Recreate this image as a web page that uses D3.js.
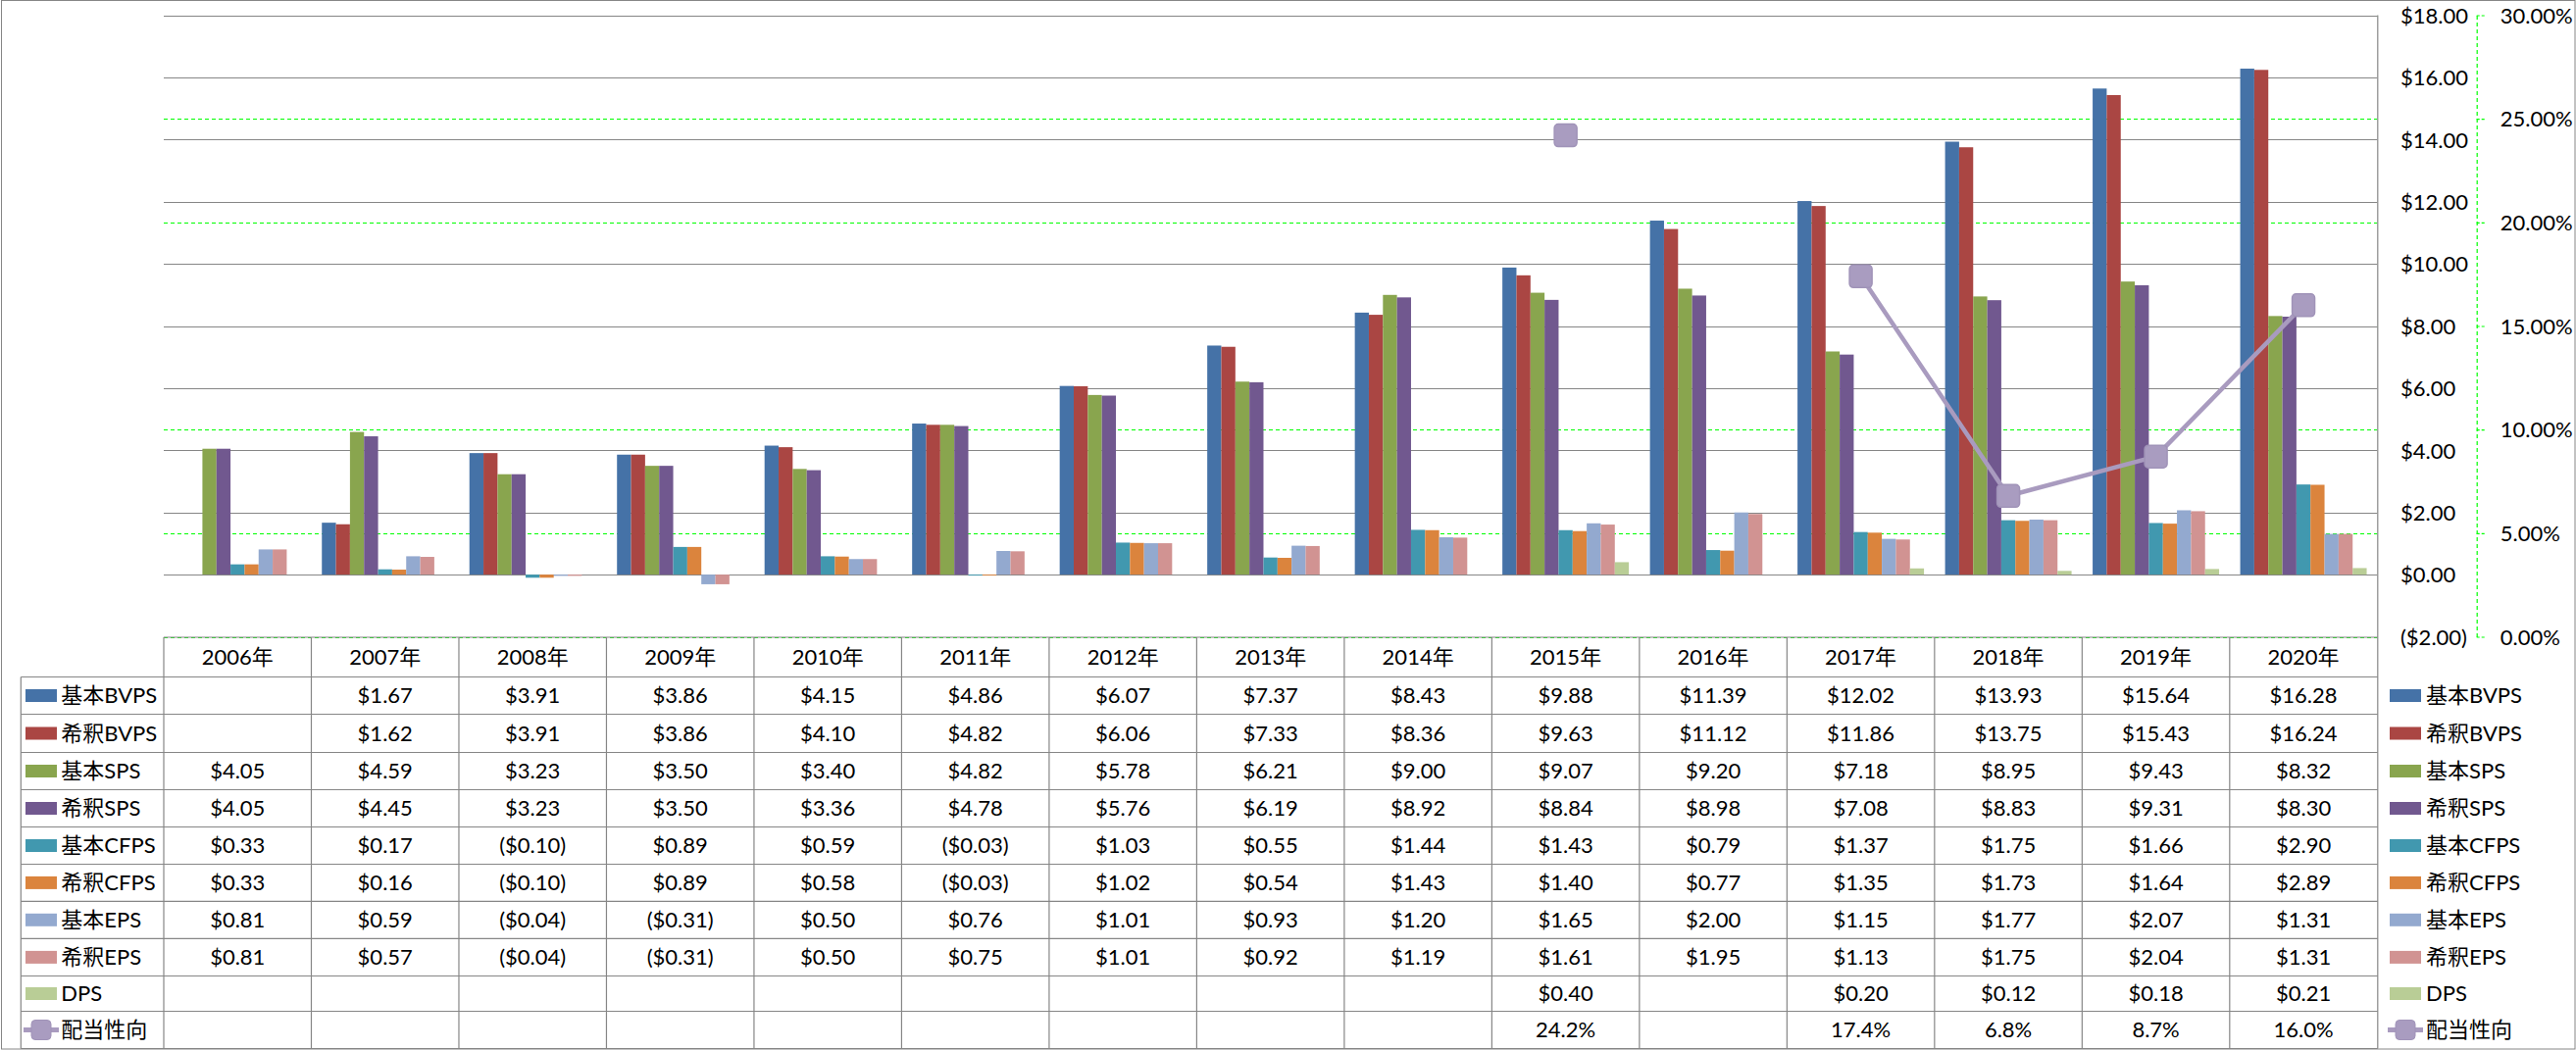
<!DOCTYPE html>
<html>
<head>
<meta charset="utf-8">
<script src="https://cdn.jsdelivr.net/npm/d3@7"></script>
<style>
  html, body { margin: 0; padding: 0; background: #fff; }
  svg { display: block; }
  text { font-family: Lato, "Noto Sans CJK JP", sans-serif; font-size: 22px; fill: #000; }
</style>
</head>
<body>
<svg id="chart" width="2627" height="1071"></svg>
<script>
// ---------------- DATA ----------------
const years = ["2006年","2007年","2008年","2009年","2010年","2011年","2012年","2013年","2014年","2015年","2016年","2017年","2018年","2019年","2020年"];
const basicBVPS   = [null, 1.67, 3.91, 3.86, 4.15, 4.86, 6.07, 7.37, 8.43, 9.88, 11.39, 12.02, 13.93, 15.64, 16.28];
const dilutedBVPS = [null, 1.62, 3.91, 3.86, 4.10, 4.82, 6.06, 7.33, 8.36, 9.63, 11.12, 11.86, 13.75, 15.43, 16.24];
const basicSPS    = [4.05, 4.59, 3.23, 3.50, 3.40, 4.82, 5.78, 6.21, 9.00, 9.07, 9.20, 7.18, 8.95, 9.43, 8.32];
const dilutedSPS  = [4.05, 4.45, 3.23, 3.50, 3.36, 4.78, 5.76, 6.19, 8.92, 8.84, 8.98, 7.08, 8.83, 9.31, 8.30];
const basicCFPS   = [0.33, 0.17, -0.10, 0.89, 0.59, -0.03, 1.03, 0.55, 1.44, 1.43, 0.79, 1.37, 1.75, 1.66, 2.90];
const dilutedCFPS = [0.33, 0.16, -0.10, 0.89, 0.58, -0.03, 1.02, 0.54, 1.43, 1.40, 0.77, 1.35, 1.73, 1.64, 2.89];
const basicEPS    = [0.81, 0.59, -0.04, -0.31, 0.50, 0.76, 1.01, 0.93, 1.20, 1.65, 2.00, 1.15, 1.77, 2.07, 1.31];
const dilutedEPS  = [0.81, 0.57, -0.04, -0.31, 0.50, 0.75, 1.01, 0.92, 1.19, 1.61, 1.95, 1.13, 1.75, 2.04, 1.31];
const dps         = [null, null, null, null, null, null, null, null, null, 0.40, null, 0.20, 0.12, 0.18, 0.21];
const payout      = [null, null, null, null, null, null, null, null, null, 0.242, null, 0.174, 0.068, 0.087, 0.160];

const barSeries = [
  { name: "基本BVPS", values: basicBVPS,   color: "#4572A7" },
  { name: "希釈BVPS", values: dilutedBVPS, color: "#AA4643" },
  { name: "基本SPS",  values: basicSPS,    color: "#89A54E" },
  { name: "希釈SPS",  values: dilutedSPS,  color: "#71588F" },
  { name: "基本CFPS", values: basicCFPS,   color: "#4198AF" },
  { name: "希釈CFPS", values: dilutedCFPS, color: "#DB843D" },
  { name: "基本EPS",  values: basicEPS,    color: "#93A9CF" },
  { name: "希釈EPS",  values: dilutedEPS,  color: "#D19392" },
  { name: "DPS",      values: dps,         color: "#B9CD96" }
];
const lineSeries = { name: "配当性向", values: payout, color: "#A99BBF" };

const dollarTicks = [-2, 0, 2, 4, 6, 8, 10, 12, 14, 16, 18];
const pctTicks = [0, 0.05, 0.10, 0.15, 0.20, 0.25, 0.30];

// ---------------- LAYOUT ----------------
const W = 2627, H = 1071;
const plotL = 167, plotR = 2424.3, plotT = 15.5, plotB = 649.5;
const tableLeft = 21.3;
const rowLines = [650, 690.5, 728.5, 767.5, 805.5, 843.5, 881.5, 919.3, 957.3, 995.5, 1031.5, 1069.5];
const gridGray = "#868686";
const green = "#00ff00";

const svg = d3.select("#chart");

// outer border
svg.append("rect").attr("x", 1.5).attr("y", 0.5).attr("width", W - 2.5).attr("height", H - 1.5)
  .attr("fill", "#fff").attr("stroke", gridGray).attr("stroke-width", 1);

// scales
const x = d3.scaleBand().domain(years).range([plotL, plotR]).paddingInner(0).paddingOuter(0);
const y = d3.scaleLinear().domain([-2, 18]).range([plotB, plotT]);
const y2 = d3.scaleLinear().domain([0, 0.30]).range([plotB, plotT]);
const barW = x.bandwidth() / 10.5;
const x1 = d3.scaleBand().domain(barSeries.map(s => s.name))
  .range([0.75 * barW, x.bandwidth() - 0.75 * barW]).padding(0);

// secondary gridlines (green dashed)
svg.append("g").selectAll("line").data(pctTicks).join("line")
  .attr("x1", plotL).attr("x2", plotR)
  .attr("y1", d => Math.round(y2(d)) + 0.5).attr("y2", d => Math.round(y2(d)) + 0.5)
  .attr("stroke", green).attr("stroke-width", 1.2).attr("stroke-dasharray", "4,3");

// primary gridlines (gray)
svg.append("g").selectAll("line").data(dollarTicks.filter(d => d >= 0)).join("line")
  .attr("x1", plotL).attr("x2", plotR)
  .attr("y1", d => Math.round(y(d)) + 0.5).attr("y2", d => Math.round(y(d)) + 0.5)
  .attr("stroke", gridGray).attr("stroke-width", 1.2);

// bars
const gBars = svg.append("g");
barSeries.forEach(s => {
  gBars.append("g").selectAll("rect")
    .data(years.map((yr, i) => ({ yr, v: s.values[i] })).filter(d => d.v != null))
    .join("rect")
    .attr("x", d => x(d.yr) + x1(s.name))
    .attr("width", x1.bandwidth())
    .attr("y", d => Math.min(y(d.v), y(0)))
    .attr("height", d => Math.abs(y(d.v) - y(0)))
    .attr("fill", s.color);
});

// right plot border
svg.append("line").attr("x1", plotR + 0.5).attr("x2", plotR + 0.5)
  .attr("y1", plotT).attr("y2", rowLines[rowLines.length - 1])
  .attr("stroke", gridGray).attr("stroke-width", 1.2);

// line series
const cx = yr => x(yr) + x.bandwidth() / 2;
const pts = years.map((yr, i) => ({ yr, v: lineSeries.values[i] }));
const line = d3.line().defined(d => d.v != null).x(d => cx(d.yr)).y(d => y2(d.v));
svg.append("path").attr("d", line(pts)).attr("fill", "none")
  .attr("stroke", lineSeries.color).attr("stroke-width", 4.5).attr("stroke-linejoin", "round");
const mS = 23;
svg.append("g").selectAll("rect").data(pts.filter(d => d.v != null)).join("rect")
  .attr("x", d => cx(d.yr) - mS / 2).attr("y", d => y2(d.v) - mS / 2)
  .attr("width", mS).attr("height", mS).attr("rx", 4)
  .attr("fill", "#A99CC0").attr("stroke", "#A093B8").attr("stroke-width", 1.5);

// primary axis labels (right side, left aligned)
const fmtDollar = v => v < 0 ? "($" + (-v).toFixed(2) + ")" : "$" + v.toFixed(2);
const axisL = d3.axisRight(y).tickValues(dollarTicks).tickSize(0).tickPadding(23.7).tickFormat(fmtDollar);
const gA = svg.append("g").attr("transform", `translate(${plotR},0)`).call(axisL);
gA.select(".domain").remove();
gA.selectAll("text").attr("font-size", null).attr("font-family", null)
  .style("font-size", "22px").attr("dy", "0.35em")
  .attr("fill", d => d < 0 ? "#ff0000" : "#000");

// secondary axis
const axisR = d3.axisRight(y2).tickValues(pctTicks).tickSize(8).tickSizeOuter(0).tickPadding(16)
  .tickFormat(d3.format(".2%"));
const gB = svg.append("g").attr("transform", `translate(2525.7,0)`).call(axisR);
gB.select(".domain").attr("stroke", green).attr("stroke-dasharray", "4,3").attr("stroke-width", 1.2);
gB.selectAll(".tick line").attr("stroke", green).attr("stroke-dasharray", "3,2").attr("stroke-width", 1.2);
gB.selectAll("text").attr("font-size", null).attr("font-family", null)
  .style("font-size", "22px").attr("dy", "0.35em").attr("fill", "#000");

// ---------------- DATA TABLE ----------------
const gT = svg.append("g");
const hLine = (yy, x0) => gT.append("line").attr("x1", x0).attr("x2", plotR + 0.5)
  .attr("y1", yy).attr("y2", yy).attr("stroke", gridGray).attr("stroke-width", 1.2);
hLine(rowLines[0], plotL);
rowLines.slice(1).forEach(yy => hLine(yy, tableLeft));
// vertical lines
years.forEach((yr, i) => {
  gT.append("line").attr("x1", x(yr)).attr("x2", x(yr))
    .attr("y1", rowLines[0]).attr("y2", rowLines[rowLines.length - 1])
    .attr("stroke", gridGray).attr("stroke-width", 1.2);
});
gT.append("line").attr("x1", tableLeft).attr("x2", tableLeft)
  .attr("y1", rowLines[1]).attr("y2", rowLines[rowLines.length - 1])
  .attr("stroke", gridGray).attr("stroke-width", 1.2);

// header
gT.append("g").selectAll("text").data(years).join("text")
  .attr("x", d => cx(d)).attr("y", (rowLines[0] + rowLines[1]) / 2).attr("dy", "0.35em")
  .attr("text-anchor", "middle").text(d => d);

const rows = barSeries.map(s => ({ name: s.name, values: s.values, color: s.color, fmt: fmtDollar, type: "bar" }))
  .concat([{ name: lineSeries.name, values: lineSeries.values, color: lineSeries.color,
             fmt: v => (v * 100).toFixed(1) + "%", type: "line" }]);

function legendKey(g, kx, cy, r) {
  if (r.type === "bar") {
    g.append("rect").attr("x", kx).attr("y", cy - 6.5).attr("width", 32).attr("height", 13).attr("fill", r.color);
  } else {
    g.append("line").attr("x1", kx - 2).attr("x2", kx + 34).attr("y1", cy).attr("y2", cy)
      .attr("stroke", r.color).attr("stroke-width", 5);
    g.append("rect").attr("x", kx + 6).attr("y", cy - 10).attr("width", 20).attr("height", 20).attr("rx", 4)
      .attr("fill", "#A99CC0").attr("stroke", "#A093B8").attr("stroke-width", 1);
  }
}

rows.forEach((r, ri) => {
  const cy = (rowLines[ri + 1] + rowLines[ri + 2]) / 2;
  // left legend
  legendKey(gT, 26, cy, r);
  gT.append("text").attr("x", 62.3).attr("y", cy).attr("dy", "0.35em").text(r.name);
  // values
  gT.append("g").selectAll("text")
    .data(years.map((yr, i) => ({ yr, v: r.values[i] })).filter(d => d.v != null))
    .join("text")
    .attr("x", d => cx(d.yr)).attr("y", cy).attr("dy", "0.35em").attr("text-anchor", "middle")
    .text(d => r.fmt(d.v));
  // right legend
  legendKey(gT, 2437, cy, r);
  gT.append("text").attr("x", 2474).attr("y", cy).attr("dy", "0.35em").text(r.name);
});
</script>
</body>
</html>
